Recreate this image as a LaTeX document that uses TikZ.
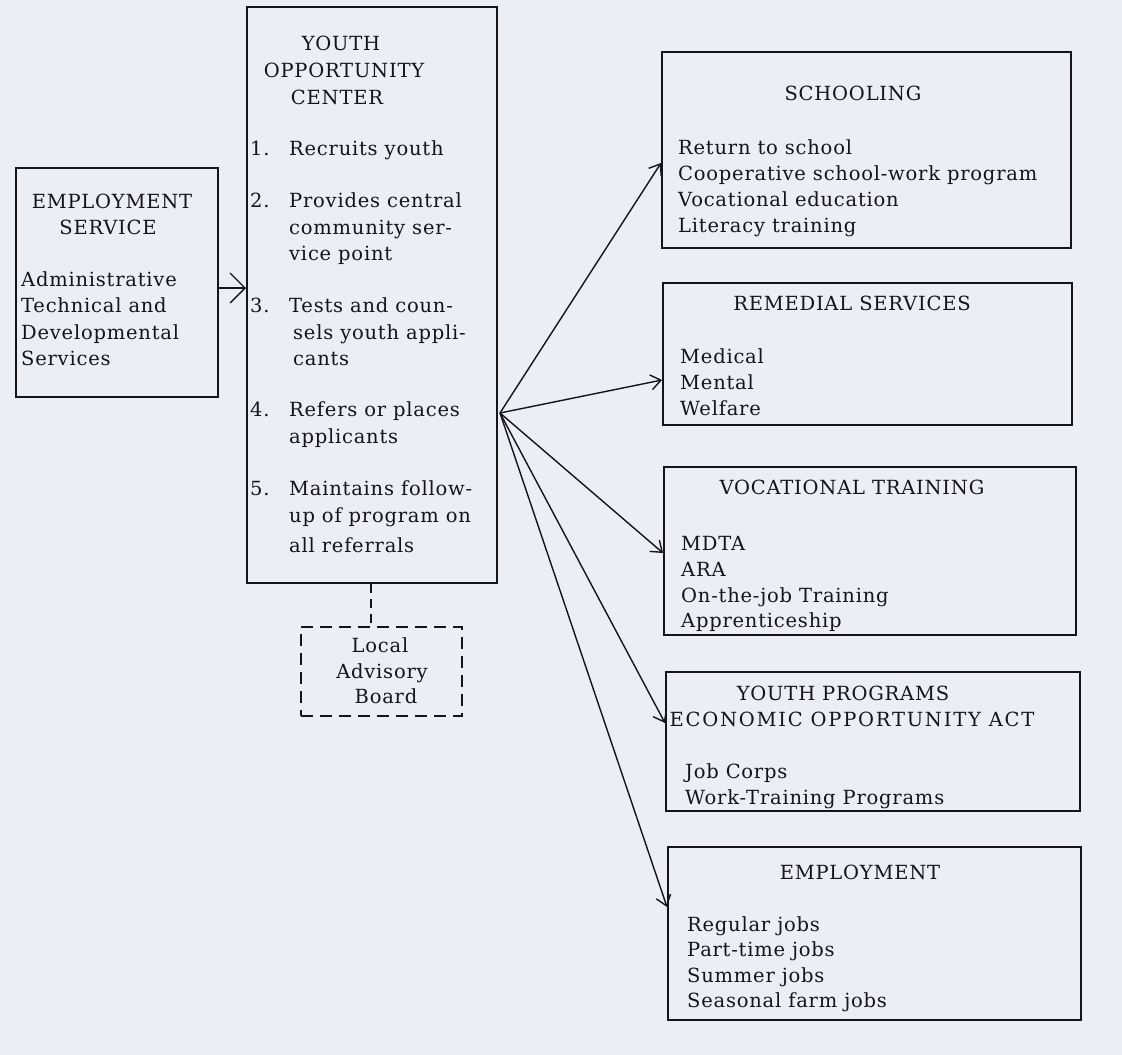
\documentclass[tikz,border=0pt]{standalone}
\usepackage{fontspec}
\setmainfont{DejaVu Serif}[LetterSpace=4]
\usetikzlibrary{arrows.meta}
\definecolor{paper}{RGB}{236,238,245}
\definecolor{ink}{RGB}{20,20,25}
\begin{document}
\begin{tikzpicture}[x=1pt,y=-1pt,
  box/.style={draw=ink, line width=2pt, rectangle, inner sep=0pt},
  dbox/.style={box, dash pattern=on 12pt off 7pt},
  txt/.style={anchor=base west, inner sep=0pt, font=\fontsize{19.5}{26}\selectfont, text=ink},
  ttl/.style={anchor=base, inner sep=0pt, font=\fontsize{19.5}{26}\selectfont, text=ink},
  arr/.style={draw=ink, line width=1.4pt, -{Straight Barb[length=10pt,width=15pt]}},
  bigarr/.style={arr, -{Straight Barb[length=15pt,width=30pt]}},
]
\fill[paper] (0,0) rectangle (1122,1055);
\useasboundingbox (0,0) rectangle (1122,1055);

% boxes
\node[box, minimum width=202pt, minimum height=229pt] (es) at (117,282.5) {};
\node[box, minimum width=250pt, minimum height=576pt] (yoc) at (372,295) {};
\node[dbox, minimum width=161pt, minimum height=89pt] (lab) at (381.5,671.5) {};
\node[box, minimum width=409pt, minimum height=196pt] (sch) at (866.5,150) {};
\node[box, minimum width=409pt, minimum height=142pt] (rem) at (867.5,354) {};
\node[box, minimum width=412pt, minimum height=168pt] (voc) at (870,551) {};
\node[box, minimum width=414pt, minimum height=139pt] (yp) at (873,741.5) {};
\node[box, minimum width=413pt, minimum height=173pt] (emp) at (874.5,933.5) {};

% Employment Service text
\node[ttl] (es1) at (112,208) {EMPLOYMENT};
\node[ttl] (es2) at (108,234) {SERVICE};
\node[txt] (es3) at (21,286) {Administrative};
\node[txt] (es4) at (21,312) {Technical and};
\node[txt] (es5) at (21,339) {Developmental};
\node[txt] (es6) at (21,365) {Services};

% Youth Opportunity Center text
\node[ttl] (y1) at (341,50) {YOUTH};
\node[ttl] (y2) at (344,77) {OPPORTUNITY};
\node[ttl] (y3) at (337,104) {CENTER};
\node[txt] (n1) at (250,155) {1.};
\node[txt] (i1) at (289,155) {Recruits youth};
\node[txt] (n2) at (250,207) {2.};
\node[txt] (i2a) at (289,207) {Provides central};
\node[txt] (i2b) at (289,234) {community ser-};
\node[txt] (i2c) at (289,260) {vice point};
\node[txt] (n3) at (250,312) {3.};
\node[txt] (i3a) at (289,312) {Tests and coun-};
\node[txt] (i3b) at (293,339) {sels youth appli-};
\node[txt] (i3c) at (293,365) {cants};
\node[txt] (n4) at (250,416) {4.};
\node[txt] (i4a) at (289,416) {Refers or places};
\node[txt] (i4b) at (289,443) {applicants};
\node[txt] (n5) at (250,495) {5.};
\node[txt] (i5a) at (289,495) {Maintains follow-};
\node[txt] (i5b) at (289,522) {up of program on};
\node[txt] (i5c) at (289,552) {all referrals};

% Local Advisory Board
\node[ttl] (l1) at (380,652) {Local};
\node[ttl] (l2) at (382,678) {Advisory};
\node[ttl] (l3) at (386,703) {Board};

% Schooling
\node[ttl] (s0) at (853,100) {SCHOOLING};
\node[txt] (s1) at (678,154) {Return to school};
\node[txt] (s2) at (678,180) {Cooperative school-work program};
\node[txt] (s3) at (678,206) {Vocational education};
\node[txt] (s4) at (678,232) {Literacy training};

% Remedial
\node[ttl] (r0) at (852,310) {REMEDIAL SERVICES};
\node[txt] (r1) at (680,363) {Medical};
\node[txt] (r2) at (680,389) {Mental};
\node[txt] (r3) at (680,415) {Welfare};

% Vocational
\node[ttl] (v0) at (852,494) {VOCATIONAL TRAINING};
\node[txt] (v1) at (681,550) {MDTA};
\node[txt] (v2) at (681,576) {ARA};
\node[txt] (v3) at (681,602) {On-the-job Training};
\node[txt] (v4) at (681,627) {Apprenticeship};

% Youth programs
\node[ttl] (p0) at (843,700) {YOUTH PROGRAMS};
\node[ttl, font=\fontsize{19.5}{26}\addfontfeature{LetterSpace=9}\selectfont] (p1) at (852,726) {ECONOMIC OPPORTUNITY ACT};
\node[txt] (p2) at (685,778) {Job Corps};
\node[txt] (p3) at (685,804) {Work-Training Programs};

% Employment
\node[ttl] (e0) at (860,879) {EMPLOYMENT};
\node[txt] (e1) at (687,931) {Regular jobs};
\node[txt] (e2) at (687,956) {Part-time jobs};
\node[txt] (e3) at (687,982) {Summer jobs};
\node[txt] (e4) at (687,1007) {Seasonal farm jobs};

% connectors
\draw[bigarr] ([yshift=-5.5pt]es.east) -- ([yshift=-5.5pt]es.east -| yoc.west);
\coordinate (fan) at ([xshift=2pt,yshift=-118pt]yoc.east);
\draw[arr] (fan) -- ([yshift=-13pt]sch.west);
\draw[arr] (fan) -- ([yshift=-26pt]rem.west);
\draw[arr] (fan) -- ([yshift=-2pt]voc.west);
\draw[arr] (fan) -- ([yshift=18.5pt]yp.west);
\draw[arr] (fan) -- ([yshift=26.5pt]emp.west);
\draw[draw=ink, line width=2pt, dash pattern=on 9pt off 6pt] ([xshift=-1pt]yoc.south) -- ([xshift=-1pt]yoc.south |- lab.north);
\end{tikzpicture}
\end{document}
